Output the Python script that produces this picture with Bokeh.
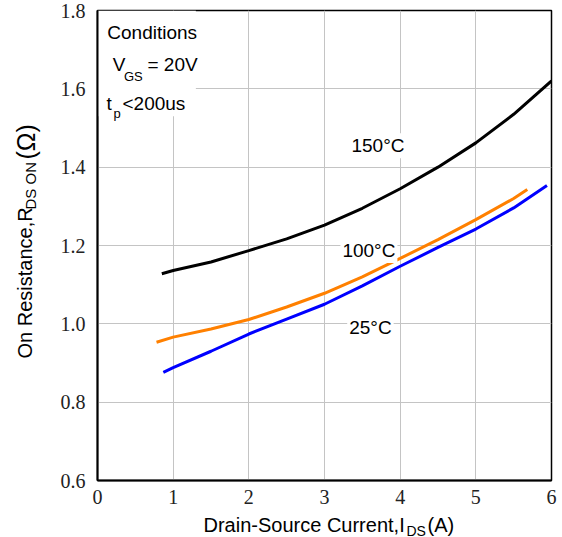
import math
from bokeh.plotting import figure
from bokeh.models import Label, Range1d, FixedTicker
from bokeh.layouts import row, column
from bokeh.embed import file_html
from bokeh.resources import INLINE

# ---- data ----
current_25 = [0.87, 1.0, 1.5, 2.0, 2.5, 3.0, 3.5, 4.0, 4.5, 5.0, 5.5, 5.94]
rds_25 = [0.876, 0.888, 0.930, 0.974, 1.012, 1.050, 1.097, 1.147, 1.195, 1.242, 1.296, 1.353]

current_100 = [0.78, 1.0, 1.5, 2.0, 2.5, 3.0, 3.5, 4.0, 4.5, 5.0, 5.5, 5.68]
rds_100 = [0.953, 0.966, 0.987, 1.011, 1.043, 1.078, 1.120, 1.167, 1.215, 1.266, 1.320, 1.343]

current_150 = [0.85, 1.0, 1.5, 2.0, 2.5, 3.0, 3.5, 4.0, 4.5, 5.0, 5.5, 6.0]
rds_150 = [1.128, 1.136, 1.158, 1.187, 1.217, 1.252, 1.295, 1.345, 1.400, 1.462, 1.535, 1.620]

x_ticks = [0, 1, 2, 3, 4, 5, 6]
y_ticks = [0.6, 0.8, 1.0, 1.2, 1.4, 1.6, 1.8]
y_tick_labels = {0.6: "0.6", 0.8: "0.8", 1.0: "1.0", 1.2: "1.2", 1.4: "1.4", 1.6: "1.6", 1.8: "1.8"}

SANS = "Liberation Sans"
SERIF = "Liberation Serif"

YLAB_W = 45
MAIN_W = 562 - YLAB_W
MAIN_H = 506
XLAB_H = 537 - MAIN_H

p = figure(width=MAIN_W, height=MAIN_H, output_backend="svg", toolbar_location=None,
           x_range=Range1d(0, 6), y_range=Range1d(0.6, 1.8),
           min_border_left=97 - YLAB_W, min_border_right=11, min_border_top=10, min_border_bottom=26)

p.outline_line_color = "black"
p.outline_line_width = 1.5
p.background_fill_color = "white"
p.border_fill_color = "white"

p.xaxis.ticker = FixedTicker(ticks=x_ticks)
p.yaxis.ticker = FixedTicker(ticks=y_ticks)
p.yaxis.major_label_overrides = y_tick_labels
for ax in (p.xaxis, p.yaxis):
    ax.major_tick_line_color = None
    ax.minor_tick_line_color = None
    ax.axis_line_color = "black"
    ax.axis_line_width = 2
    ax.major_label_text_font = SERIF
    ax.major_label_text_font_size = "20px"
    ax.major_label_text_color = "#222222"
p.xaxis.major_label_standoff = 3
p.yaxis.major_label_standoff = 6

p.xgrid.ticker = FixedTicker(ticks=[1, 2, 3, 4, 5])
p.ygrid.ticker = FixedTicker(ticks=[0.8, 1.0, 1.2, 1.4, 1.6])
p.grid.grid_line_color = "#c4c4c4"
p.grid.grid_line_width = 1

# white box behind the conditions text
p.quad(left=[0.0], right=[1.3], top=[1.8], bottom=[1.53], fill_color="white", line_color=None)

p.line(current_150, rds_150, line_color="black", line_width=3)
p.line(current_100, rds_100, line_color="#ff8000", line_width=3)
p.line(current_25, rds_25, line_color="#0000ff", line_width=3)


def lab(fig, x, y, text, size, angle=0.0, baseline="middle", bg=None, units="data"):
    l = Label(x=x, y=y, text=text, text_font=SANS, text_font_size=size, angle=angle,
              text_align="left", text_baseline=baseline, text_color="black",
              x_units=units, y_units=units)
    if bg:
        l.background_fill_color = bg
        l.padding = 2
    fig.add_layout(l)


# curve labels
lab(p, 3.33, 1.455, "150°C", "19px", bg="white")
lab(p, 3.21, 1.187, "100°C", "19px", bg="white")
lab(p, 3.30, 0.991, "25°C", "19px", bg="white")

# conditions
lab(p, 0.13, 1.744, "Conditions", "19px")
lab(p, 0.20, 1.661, "V", "19px")
lab(p, 0.35, 1.631, "GS", "13px")
lab(p, 0.66, 1.661, "= 20V", "19px")
lab(p, 0.12, 1.563, "t", "19px")
lab(p, 0.21, 1.537, "p", "13px")
lab(p, 0.33, 1.563, "<200us", "19px")


def blank(w, h):
    f = figure(width=w, height=h, output_backend="svg", toolbar_location=None,
               x_axis_location=None, y_axis_location=None,
               x_range=Range1d(0, 1), y_range=Range1d(0, 1), min_border=0)
    f.outline_line_color = None
    f.grid.visible = False
    f.background_fill_color = "white"
    f.border_fill_color = "white"
    return f


# x axis label (own strip under the chart; canvas pixels)
xl = blank(MAIN_W, XLAB_H)
ox, oy = YLAB_W, MAIN_H
lab(xl, 203 - ox, 524 - oy, "Drain-Source Current,I", "20px", baseline="alphabetic", units="canvas")
lab(xl, 406 - ox, 530 - oy, "DS", "14px", baseline="alphabetic", units="canvas")
lab(xl, 427 - ox, 524 - oy, "(A)", "20px", baseline="alphabetic", units="canvas")

# y axis label (own strip left of the chart; rotated)
yl = blank(YLAB_W, 537)
ang = math.pi / 2
lab(yl, 24, 358, "On Resistance,R", "20px", angle=ang, units="canvas")
lab(yl, 30, 209, "DS ON", "15px", angle=ang, units="canvas")
lab(yl, 25, 159, "(Ω)", "25px", angle=ang, units="canvas")

layout = row(yl, column(p, xl, spacing=0), spacing=0)
open("out.html", "w").write(file_html(layout, INLINE))
